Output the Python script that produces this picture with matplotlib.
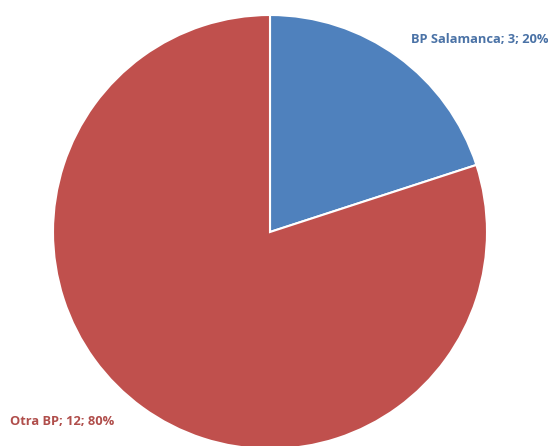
import matplotlib
matplotlib.use("Agg")
import matplotlib.pyplot as plt

categories = ["BP Salamanca", "Otra BP"]
values = [3, 12]
percents = [20, 80]
colors = ["#4F81BD", "#C0504D"]
label_colors = ["#4A72A6", "#B04E4B"]

W, H = 548, 446
fig = plt.figure(figsize=(W / 100, H / 100), dpi=100)
ax = fig.add_axes([0, 0, 1, 1])
ax.set_xlim(0, W)
ax.set_ylim(0, H)
ax.set_aspect("equal")
ax.axis("off")

cx, cy, r = 270, H - 232, 217
ax.pie(values, colors=colors, startangle=90, counterclock=False,
       center=(cx, cy), radius=r, frame=True,
       wedgeprops=dict(edgecolor="white", linewidth=1.5))
ax.set_xlim(0, W)
ax.set_ylim(0, H)
ax.axis("off")

label_pos = [(411, H - 39, "left"), (10, H - 421, "left")]
for cat, v, p, col, (x, y, ha) in zip(categories, values, percents, label_colors, label_pos):
    ax.text(x, y, f"{cat}; {v}; {p}%", color=col, fontsize=9.3, fontweight="bold",
            family=["Open Sans", "DejaVu Sans"], ha=ha, va="center")

fig.savefig("out.png", dpi=100)
